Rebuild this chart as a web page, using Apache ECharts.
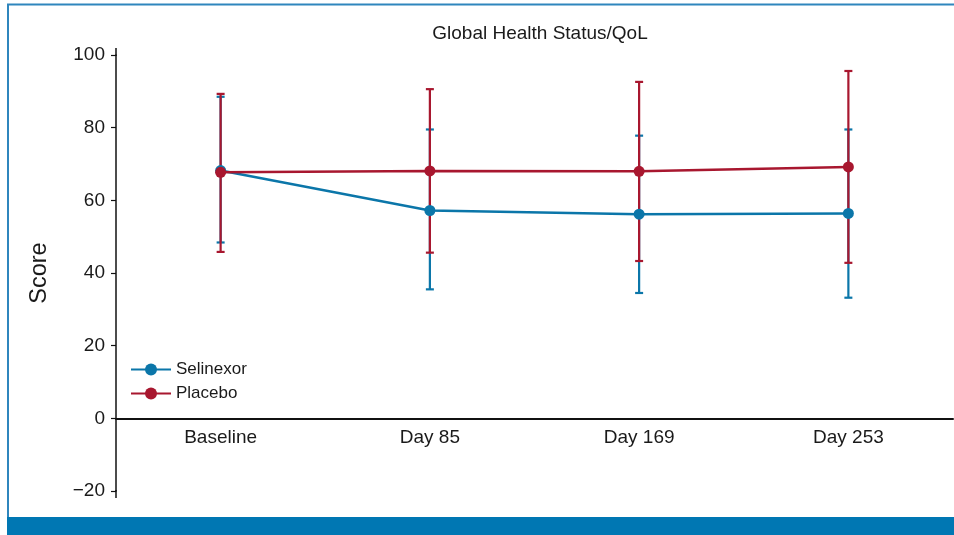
<!DOCTYPE html>
<html>
<head>
<meta charset="utf-8">
<script src="https://cdn.jsdelivr.net/npm/echarts@6/dist/echarts.min.js"></script>
<style>
html,body{margin:0;padding:0;background:#fff;}
#main{width:954px;height:535px;}
</style>
</head>
<body>
<div id="main"></div>
<script>
const categories = ['Baseline', 'Day 85', 'Day 169', 'Day 253'];
const selinexorMean = [68.2, 57.2, 56.2, 56.4];
const selinexorUpper = [88.5, 79.5, 77.8, 79.5];
const selinexorLower = [48.4, 35.5, 34.5, 33.2];
const placeboMean = [67.7, 68.1, 68.0, 69.2];
const placeboUpper = [89.3, 90.6, 92.6, 95.6];
const placeboLower = [45.8, 45.6, 43.3, 42.8];
const yTicks = [-20, 0, 20, 40, 60, 80, 100];

const BLUE = '#0b76a9';
const RED = '#a8172f';
const FONT = '"Liberation Sans", Arial, sans-serif';

const GRID_TOP = 55, GRID_BOTTOM_PX = 491;
const Y_MIN = -20, Y_MAX = 100;
const zeroOffset = (GRID_BOTTOM_PX - GRID_TOP) * (0 - Y_MIN) / (Y_MAX - Y_MIN);

function errorSeries(name, color, lower, upper) {
  return {
    type: 'custom',
    name: name + ' error',
    silent: true,
    z: 2,
    data: categories.map((c, i) => [i, lower[i], upper[i]]),
    encode: { x: 0, y: [1, 2] },
    renderItem: function (params, api) {
      const lo = api.coord([api.value(0), api.value(1)]);
      const hi = api.coord([api.value(0), api.value(2)]);
      const hw = 4;
      const st = { stroke: color, lineWidth: 2.2 };
      return {
        type: 'group',
        children: [
          { type: 'line', shape: { x1: hi[0], y1: hi[1], x2: lo[0], y2: lo[1] }, style: st },
          { type: 'line', shape: { x1: hi[0] - hw, y1: hi[1], x2: hi[0] + hw, y2: hi[1] }, style: st },
          { type: 'line', shape: { x1: lo[0] - hw, y1: lo[1], x2: lo[0] + hw, y2: lo[1] }, style: st }
        ]
      };
    }
  };
}

const chart = echarts.init(document.getElementById('main'));
chart.setOption({
  animation: false,
  backgroundColor: '#ffffff',
  textStyle: { fontFamily: FONT },
  title: {
    text: 'Global Health Status/QoL',
    left: 535, top: 19, textAlign: 'center',
    textStyle: { fontFamily: FONT, fontSize: 19, fontWeight: 'normal', color: '#1a1a1a' }
  },
  legend: {
    orient: 'vertical',
    left: 125, top: 356,
    itemWidth: 40, itemHeight: 15, itemGap: 7,
    data: ['Selinexor', 'Placebo'],
    textStyle: { fontFamily: FONT, fontSize: 17, color: '#1a1a1a' }
  },
  grid: { left: 116, right: 1, top: GRID_TOP, bottom: 535 - GRID_BOTTOM_PX, containLabel: false },
  xAxis: {
    type: 'category',
    data: categories,
    boundaryGap: true,
    offset: -zeroOffset,
    axisLine: { onZero: false, lineStyle: { color: '#111', width: 2 } },
    axisTick: { show: false },
    axisLabel: { fontFamily: FONT, fontSize: 19, color: '#1a1a1a', margin: 10 }
  },
  yAxis: {
    type: 'value',
    min: Y_MIN, max: Y_MAX, interval: 20,
    name: 'Score',
    nameLocation: 'middle',
    nameGap: 64,
    nameTextStyle: { fontFamily: FONT, fontSize: 23.5, color: '#1a1a1a' },
    axisLine: { show: true, lineStyle: { color: '#111', width: 1.5 } },
    axisTick: { show: true, inside: false, length: 5, lineStyle: { color: '#111', width: 1.2 } },
    axisLabel: { fontFamily: FONT, fontSize: 19, color: '#1a1a1a', margin: 11,
      formatter: v => (yTicks.indexOf(v) >= 0 ? (v < 0 ? '\u2212' + Math.abs(v) : String(v)) : '') },
    splitLine: { show: false }
  },
  graphic: [
    { type: 'polyline', silent: true, shape: { points: [[8, 518], [8, 4.5], [954, 4.5]] },
      style: { stroke: '#2f86bd', lineWidth: 2, fill: null } },
    { type: 'rect', silent: true, shape: { x: 7, y: 517, width: 947, height: 18 },
      style: { fill: '#0077b3' } },
    { type: 'line', silent: true, shape: { x1: 116, y1: 48, x2: 116, y2: 56 },
      style: { stroke: '#111', lineWidth: 1.5 } },
    { type: 'line', silent: true, shape: { x1: 116, y1: 490, x2: 116, y2: 498 },
      style: { stroke: '#111', lineWidth: 1.5 } }
  ],
  series: [
    errorSeries('Selinexor', BLUE, selinexorLower, selinexorUpper),
    errorSeries('Placebo', RED, placeboLower, placeboUpper),
    {
      name: 'Selinexor', type: 'line', data: selinexorMean, z: 3,
      symbol: 'circle', symbolSize: 11,
      lineStyle: { color: BLUE, width: 2.5 },
      itemStyle: { color: BLUE }
    },
    {
      name: 'Placebo', type: 'line', data: placeboMean, z: 4,
      symbol: 'circle', symbolSize: 11,
      lineStyle: { color: RED, width: 2.5 },
      itemStyle: { color: RED }
    }
  ]
});
</script>
</body>
</html>
